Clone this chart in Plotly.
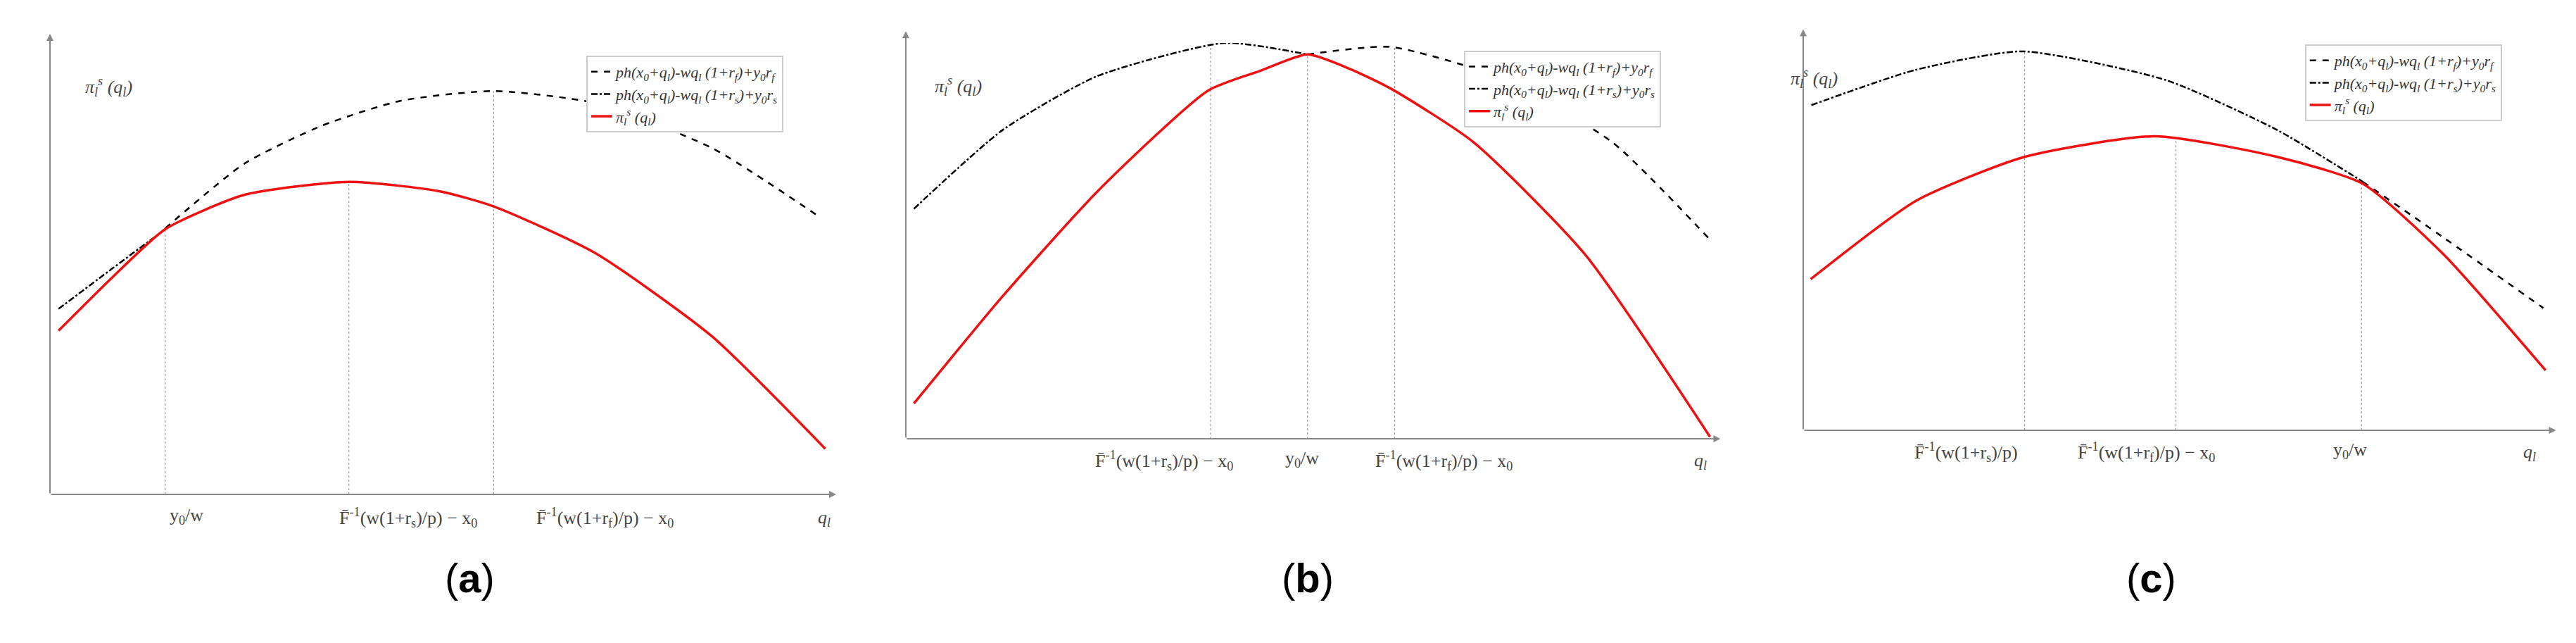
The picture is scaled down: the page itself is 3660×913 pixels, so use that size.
import plotly.graph_objects as go

# ---- data (arbitrary units, 0-10) ----
a_red_x = [0.11, 0.8, 1.48, 2.5, 3.84, 5.0, 5.7, 7.0, 8.5, 9.96]
a_red_y = [3.66, 4.85, 5.93, 6.7, 6.99, 6.78, 6.44, 5.40, 3.54, 1.02]
a_dash_x = [1.48, 2.5, 3.5, 4.5, 5.7, 7.0, 8.5, 9.89]
a_dash_y = [5.95, 7.4, 8.25, 8.8, 9.02, 8.75, 7.75, 6.2]
a_dd_x = [0.11, 0.8, 1.48]
a_dd_y = [4.15, 5.05, 5.93]
a_vx = [1.48, 3.84, 5.70]
a_vy = [5.93, 6.99, 9.02]

b_red_x = [0.10, 1.2, 2.4, 3.75, 4.4, 4.98, 5.5, 6.01, 7.04, 8.42, 9.97]
b_red_y = [0.89, 3.6, 6.3, 8.80, 9.3, 9.71, 9.35, 8.85, 7.49, 4.66, 0.05]
b_dd_x = [0.10, 1.20, 2.37, 3.95, 4.98]
b_dd_y = [5.81, 7.80, 9.16, 10.0, 9.71]
b_dash_x = [4.98, 6.01, 7.4, 8.76, 9.97]
b_dash_y = [9.71, 9.90, 9.1, 7.49, 5.03]
b_vx = [3.78, 4.98, 6.06]
b_vy = [9.98, 9.71, 9.88]

c_red_x = [0.10, 1.52, 2.97, 4.72, 6.36, 7.51, 8.59, 9.96]
c_red_y = [3.88, 5.90, 7.02, 7.55, 7.02, 6.33, 4.52, 1.54]
c_dd_x = [0.11, 1.5, 2.94, 4.87, 6.36, 7.51]
c_dd_y = [8.35, 9.25, 9.73, 8.99, 7.71, 6.38]
c_dash_x = [7.51, 8.59, 9.93]
c_dash_y = [6.38, 4.95, 3.14]
c_vx = [2.97, 5.00, 7.49]
c_vy = [9.73, 7.55, 6.38]

tick_a = ["y<sub>0</sub>/w", "F\u0304<sup>-1</sup>(w(1+r<sub>s</sub>)/p) \u2212 x<sub>0</sub>",
          "F\u0304<sup>-1</sup>(w(1+r<sub>f</sub>)/p) \u2212 x<sub>0</sub>"]
tick_a_x = [1.52, 3.70, 6.23]
tick_b = ["F\u0304<sup>-1</sup>(w(1+r<sub>s</sub>)/p) \u2212 x<sub>0</sub>", "y<sub>0</sub>/w",
          "F\u0304<sup>-1</sup>(w(1+r<sub>f</sub>)/p) \u2212 x<sub>0</sub>"]
tick_b_x = [3.20, 4.91, 6.67]
tick_c = ["F\u0304<sup>-1</sup>(w(1+r<sub>s</sub>)/p)", "F\u0304<sup>-1</sup>(w(1+r<sub>f</sub>)/p) \u2212 x<sub>0</sub>",
          "y<sub>0</sub>/w"]
tick_c_x = [2.90, 5.54, 7.58]

leg_f = "<i>ph(x<sub>0</sub>+q<sub>l</sub>)-wq<sub>l</sub> (1+r<sub>f</sub>)+y<sub>0</sub>r<sub>f</sub></i>"
leg_s = "<i>ph(x<sub>0</sub>+q<sub>l</sub>)-wq<sub>l</sub> (1+r<sub>s</sub>)+y<sub>0</sub>r<sub>s</sub></i>"
leg_r = "<i>\u03c0<sub>l</sub><sup>s</sup> (q<sub>l</sub>)</i>"
ylab = "\u03c0<sub>l</sub><sup>s</sup> (q<sub>l</sub>)"

W, H = 3660, 913
panels = [(63, 1169, 694, 59), (1279, 2425, 615, 53), (2554, 3613, 603, 50)]
legpos = [(6.89, 9.81), (6.92, 9.81), (6.73, 9.91)]
ylabpos = [(0.43, 9.44), (0.65, 9.27), (0.48, 9.41)]
letters = ["a", "b", "c"]
letter_x = [622, 1850, 3086]

data = [
    (a_red_x, a_red_y, a_dash_x, a_dash_y, a_dd_x, a_dd_y, a_vx, a_vy, tick_a, tick_a_x),
    (b_red_x, b_red_y, b_dash_x, b_dash_y, b_dd_x, b_dd_y, b_vx, b_vy, tick_b, tick_b_x),
    (c_red_x, c_red_y, c_dash_x, c_dash_y, c_dd_x, c_dd_y, c_vx, c_vy, tick_c, tick_c_x),
]

fig = go.Figure()
serif = "Liberation Serif"
layout = dict(width=W, height=H, margin=dict(l=0, r=0, t=0, b=0),
              paper_bgcolor="white", plot_bgcolor="white", showlegend=True)
annotations = []
for i, (rx, ry, dx, dy, ddx, ddy, vx, vy, tl, tx) in enumerate(data):
    n = "" if i == 0 else str(i + 1)
    xa, ya = "x" + n, "y" + n
    lg = "legend" + n
    x0, x1, yb, yt = panels[i]
    px = lambda v: (x0 + (x1 - x0) * v / 10) / W
    py = lambda v: 1 - (yb - (yb - yt) * v / 10) / H
    layout["xaxis" + n] = dict(domain=[x0 / W, x1 / W], range=[0, 10], visible=False, anchor=ya)
    layout["yaxis" + n] = dict(domain=[1 - yb / H, 1 - yt / H], range=[0, 10], visible=False, anchor=xa)
    for xv, yv in zip(vx, vy):
        fig.add_trace(go.Scatter(x=[xv, xv], y=[0, yv], mode="lines", xaxis=xa, yaxis=ya,
                                 line=dict(color="#999999", width=1.2, dash="dot"),
                                 showlegend=False, hoverinfo="skip"))
    fig.add_trace(go.Scatter(x=dx, y=dy, mode="lines", xaxis=xa, yaxis=ya, name=leg_f, legend=lg,
                             line=dict(color="black", width=2.5, dash="dash", shape="spline", smoothing=0.6)))
    fig.add_trace(go.Scatter(x=ddx, y=ddy, mode="lines", xaxis=xa, yaxis=ya, name=leg_s, legend=lg,
                             line=dict(color="black", width=2.5, dash="dashdot", shape="spline", smoothing=0.6)))
    fig.add_trace(go.Scatter(x=rx, y=ry, mode="lines", xaxis=xa, yaxis=ya, name=leg_r, legend=lg,
                             line=dict(color="#ee1111", width=3.5, shape="spline", smoothing=0.6)))
    lx, ly = legpos[i]
    layout[lg] = dict(x=px(lx), y=py(ly), xanchor="left", yanchor="top", bgcolor="white",
                      bordercolor="#cccccc", borderwidth=2,
                      font=dict(family=serif, size=22, color="#333"), tracegroupgap=0)
    annotations.append(dict(x=10.1, y=0, ax=0, ay=0, xref=xa, yref=ya, axref=xa, ayref=ya,
                            showarrow=True, arrowhead=2, arrowsize=1, arrowwidth=2,
                            arrowcolor="#888888", text=""))
    annotations.append(dict(x=0, y=10.3, ax=0, ay=0, xref=xa, yref=ya, axref=xa, ayref=ya,
                            showarrow=True, arrowhead=2, arrowsize=1, arrowwidth=2,
                            arrowcolor="#888888", text=""))
    for t, xt in zip(tl, tx):
        annotations.append(dict(x=px(xt), y=py(-0.2), xref="paper", yref="paper", text=t,
                                showarrow=False, yanchor="top",
                                font=dict(family=serif, size=26, color="#444")))
    annotations.append(dict(x=px(9.85), y=py(-0.25), xref="paper", yref="paper",
                            text="<i>q<sub>l</sub></i>", showarrow=False, yanchor="top",
                            font=dict(family=serif, size=26, color="#444")))
    lx2, ly2 = ylabpos[i]
    annotations.append(dict(x=px(lx2), y=py(ly2), xref="paper", yref="paper",
                            text="<i>" + ylab + "</i>", showarrow=False,
                            font=dict(family=serif, size=26, color="#444")))
    annotations.append(dict(x=letter_x[i] / W, y=1 - 847 / H, xref="paper", yref="paper",
                            text="(<b>" + letters[i] + "</b>)", showarrow=False,
                            font=dict(family="Liberation Sans", size=58, color="black")))

layout["annotations"] = annotations
fig.update_layout(**layout)
fig.write_html("out.html")
